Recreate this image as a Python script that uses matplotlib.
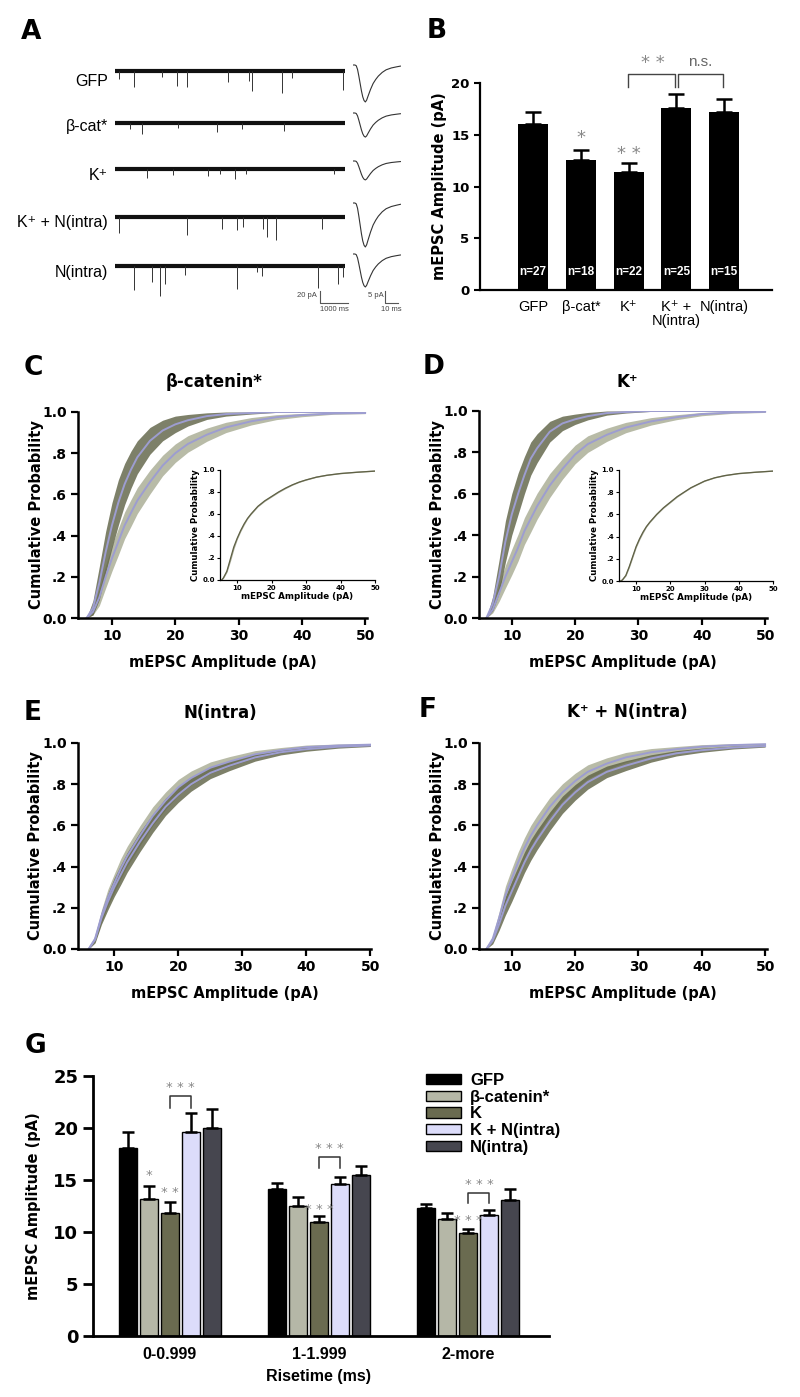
import numpy as np
import matplotlib
matplotlib.use('Agg')
import matplotlib.pyplot as plt

plt.rcParams['font.family'] = ['DejaVu Sans']

W, H = 800, 1397
ARIAL = ['Liberation Sans', 'DejaVu Sans']
NARROW = ['Liberation Sans Narrow', 'Liberation Sans', 'DejaVu Sans']
WIDE = ['DejaVu Sans']

# ---- A: example traces (event times in ms, amplitudes in pA) ----
trace_names = ['GFP', 'β-cat*', 'K⁺', 'K⁺ + N(intra)', 'N(intra)']
ev_gfp_t = [143, 690, 1667, 2226, 2560, 4048, 4798, 4881, 5976, 6310, 8131]
ev_gfp_a = [14, 28, 10, 25, 28, 18, 17, 34, 38, 12, 32]
ev_bcat_t = [536, 976, 2262, 3655, 4524, 6048]
ev_bcat_a = [10, 19, 8, 15, 11, 13]
ev_k_t = [1155, 2083, 3333, 3750, 4286, 4679, 7821]
ev_k_a = [15, 10, 12, 8, 17, 8, 9]
ev_kn_t = [143, 2583, 3810, 4345, 4583, 5298, 5440, 5738, 7381]
ev_kn_a = [28, 30, 20, 23, 17, 20, 35, 40, 21]
ev_n_t = [690, 1333, 1607, 1786, 2500, 4345, 5060, 5238, 7262, 7976, 8150]
ev_n_a = [41, 28, 52, 30, 15, 39, 10, 17, 38, 30, 18]

# averaged mEPSC shape (ms, fraction of peak) and peak per group (pA)
wave_t = [0, 1, 2, 3, 4, 5, 6, 7, 8, 9, 10, 12, 14, 16, 18, 21, 24, 28, 32, 35]
wave_frac = [0, 0.02, 0.12, 0.3, 0.5, 0.7, 0.86, 0.96, 1.0, 0.95, 0.85, 0.66,
             0.5, 0.39, 0.3, 0.2, 0.13, 0.08, 0.05, 0.03]
wave_peak = [15.8, 10.3, 8.1, 18.8, 14.1]

# ---- B ----
b_labels = ['GFP', 'β-cat*', 'K⁺', 'K⁺ +\nN(intra)', 'N(intra)']
b_means = [16.06, 12.58, 11.39, 17.55, 17.16]
b_sem = [1.10, 0.97, 0.87, 1.42, 1.29]
b_n = ['n=27', 'n=18', 'n=22', 'n=25', 'n=15']

# ---- C-F: cumulative distributions ----
amp_x = [6, 7, 8, 9, 10, 11, 12, 13, 14, 16, 18, 20, 22, 25, 28, 32, 36, 40, 45, 50]
c_dark = [0, 0.05, 0.17, 0.32, 0.45, 0.56, 0.65, 0.72, 0.78, 0.86, 0.91, 0.94,
          0.96, 0.98, 0.99, 0.995, 1.0, 1.0, 1.0, 1.0]
c_dark_sem = [0, 0.035, 0.08, 0.1, 0.11, 0.11, 0.1, 0.09, 0.08, 0.065, 0.05, 0.04,
              0.028, 0.016, 0.01, 0.005, 0.002, 0, 0, 0]
c_light = [0, 0.03, 0.1, 0.2, 0.29, 0.37, 0.45, 0.51, 0.57, 0.66, 0.74, 0.8,
           0.845, 0.89, 0.925, 0.955, 0.975, 0.985, 0.993, 0.995]
c_light_sem = [0, 0.015, 0.04, 0.055, 0.062, 0.065, 0.065, 0.065, 0.063, 0.058, 0.05,
               0.045, 0.04, 0.032, 0.025, 0.018, 0.012, 0.008, 0.004, 0.003]
d_dark = [0, 0.07, 0.2, 0.37, 0.5, 0.6, 0.69, 0.77, 0.82, 0.9, 0.94, 0.96,
          0.975, 0.99, 0.995, 1.0, 1.0, 1.0, 1.0, 1.0]
d_dark_sem = [0, 0.035, 0.08, 0.1, 0.1, 0.1, 0.09, 0.08, 0.07, 0.05, 0.035, 0.025,
              0.018, 0.01, 0.005, 0.002, 0, 0, 0, 0]
d_light = [0, 0.04, 0.12, 0.2, 0.27, 0.34, 0.42, 0.48, 0.54, 0.64, 0.72, 0.79,
           0.84, 0.885, 0.92, 0.95, 0.97, 0.985, 0.993, 0.996]
d_light_sem = [0, 0.015, 0.04, 0.055, 0.062, 0.065, 0.065, 0.065, 0.063, 0.058, 0.05,
               0.045, 0.04, 0.032, 0.025, 0.018, 0.012, 0.008, 0.004, 0.003]
e_dark = [0, 0.045, 0.15, 0.23, 0.3, 0.36, 0.42, 0.47, 0.52, 0.61, 0.69, 0.75,
          0.8, 0.855, 0.89, 0.93, 0.955, 0.97, 0.982, 0.988]
e_light = [0, 0.05, 0.16, 0.25, 0.32, 0.39, 0.45, 0.5, 0.55, 0.645, 0.72, 0.785,
           0.83, 0.88, 0.91, 0.945, 0.965, 0.98, 0.988, 0.992]
e_sem = [0, 0.015, 0.03, 0.04, 0.045, 0.048, 0.048, 0.048, 0.048, 0.045, 0.042, 0.038,
         0.034, 0.028, 0.024, 0.018, 0.013, 0.01, 0.007, 0.005]
f_dark = [0, 0.04, 0.12, 0.21, 0.28, 0.35, 0.42, 0.48, 0.53, 0.62, 0.7, 0.76,
          0.81, 0.86, 0.89, 0.925, 0.95, 0.965, 0.978, 0.985]
f_light = [0, 0.05, 0.15, 0.26, 0.34, 0.42, 0.49, 0.55, 0.6, 0.69, 0.76, 0.815,
           0.86, 0.9, 0.93, 0.955, 0.97, 0.982, 0.99, 0.994]
f_sem = [0, 0.015, 0.03, 0.045, 0.05, 0.05, 0.05, 0.05, 0.048, 0.045, 0.042, 0.038,
         0.034, 0.028, 0.024, 0.018, 0.013, 0.01, 0.007, 0.005]

inset_x = [5.5, 6, 7, 8, 9, 10, 11, 12, 13, 14, 16, 18, 20, 22, 24, 26, 28, 30,
           33, 36, 40, 45, 50]
c_inset_a = [0, 0.02, 0.08, 0.19, 0.3, 0.38, 0.45, 0.51, 0.56, 0.6, 0.67, 0.72,
             0.76, 0.8, 0.835, 0.865, 0.89, 0.91, 0.935, 0.952, 0.968, 0.98, 0.99]
c_inset_b = [0, 0.015, 0.07, 0.17, 0.28, 0.37, 0.44, 0.5, 0.555, 0.595, 0.665, 0.715,
             0.755, 0.795, 0.83, 0.862, 0.888, 0.908, 0.934, 0.951, 0.967, 0.98, 0.99]
d_inset_a = [0, 0.01, 0.05, 0.13, 0.22, 0.31, 0.38, 0.44, 0.49, 0.53, 0.6, 0.66,
             0.71, 0.76, 0.8, 0.84, 0.87, 0.9, 0.93, 0.95, 0.968, 0.98, 0.99]
d_inset_b = [0, 0.008, 0.045, 0.12, 0.21, 0.3, 0.37, 0.43, 0.485, 0.525, 0.595, 0.655,
             0.705, 0.755, 0.797, 0.837, 0.868, 0.898, 0.929, 0.949, 0.967, 0.98, 0.99]

# ---- G ----
g_groups = ['0-0.999', '1-1.999', '2-more']
g_names = ['GFP', 'β-catenin*', 'K', 'K + N(intra)', 'N(intra)']
g_gfp = [18.05, 14.13, 12.34]
g_bcat = [13.2, 12.53, 11.28]
g_k = [11.86, 10.93, 9.94]
g_kn = [19.6, 14.58, 11.63]
g_n = [19.97, 15.5, 13.08]
g_gfp_sem = [1.55, 0.62, 0.32]
g_bcat_sem = [1.25, 0.84, 0.58]
g_k_sem = [1.04, 0.61, 0.35]
g_kn_sem = [1.8, 0.72, 0.45]
g_n_sem = [1.83, 0.8, 1.09]
g_colors = ['#000000', '#b5b7a7', '#6a6b50', '#dcdcfa', '#46464f']

DARK = '#5d6143'
LIGHT = '#b8bba7'
LAV = '#9d9dd0'

fig = plt.figure(figsize=(W / 100, H / 100), dpi=100)


def px_axes(l, t, r, b):
    return fig.add_axes([l / W, 1 - b / H, (r - l) / W, (b - t) / H])


def ftext(x, y, s, **kw):
    fig.text(x / W, 1 - y / H, s, **kw)


def bold_ticks(ax, fam=WIDE):
    for lab in ax.get_xticklabels() + ax.get_yticklabels():
        lab.set_fontweight('bold')
        lab.set_family(fam)


# panel letters
for letter, (x, y) in zip('ABCDEFG', [(31, 32), (437, 31), (33, 368), (434, 367),
                                      (33, 713), (428, 710), (35, 1046)]):
    ftext(x, y, letter, fontsize=19, fontweight='bold', ha='center', va='center')

# ---------------- A ----------------
MS_PX = 1000 / 28.0
PA_PX = 20 / 11.7
ax_tr = px_axes(115, 55, 348, 315)
ax_tr.set_xlim(0, 233 * MS_PX)
ax_tr.set_ylim(-260 * PA_PX, 0)
ax_tr.axis('off')
row_px = [71, 123, 169, 217, 266]
label_px = [82, 127, 175, 223, 273]
events = [(ev_gfp_t, ev_gfp_a), (ev_bcat_t, ev_bcat_a), (ev_k_t, ev_k_a),
          (ev_kn_t, ev_kn_a), (ev_n_t, ev_n_a)]
for i, (ts, amps) in enumerate(events):
    base = -(row_px[i] - 55) * PA_PX
    ax_tr.plot([0, 8200], [base, base], color='#111111', lw=3.0, solid_capstyle='butt')
    ax_tr.vlines(ts, base, base - np.array(amps), color='#333333', lw=0.7)
    ftext(108, label_px[i], trace_names[i], ha='right', va='center', fontsize=11.5,
          family=ARIAL)

x0 = (320 - 115) * MS_PX
y0 = -(303 - 55) * PA_PX
ax_tr.plot([x0, x0, x0 + 1000], [y0 + 20, y0, y0], color='#555555', lw=0.8,
           clip_on=False)
ax_tr.text(x0 - 120, y0 + 12, '20 pA', ha='right', va='center', fontsize=5.5,
           color='#444444', family=ARIAL)
ax_tr.text(x0 + 500, y0 - 5, '1000 ms', ha='center', va='top', fontsize=5.5,
           color='#444444', family=ARIAL)

WMS_PX = 0.77
WPA_PX = 5 / 11.7
ax_w = px_axes(353, 55, 401, 315)
ax_w.set_xlim(0, 48 * WMS_PX)
ax_w.set_ylim(-260 * WPA_PX, 0)
ax_w.axis('off')
wave_px = [65, 113, 161, 203, 254]
for i in range(5):
    base = -(wave_px[i] - 55) * WPA_PX
    tt = [0] + [t + 1.5 for t in wave_t]
    yy = [base] + [base - wave_peak[i] * f for f in wave_frac]
    ax_w.plot(tt, yy, color='#333333', lw=0.8)
x1 = (385 - 353) * WMS_PX
y1 = -(303 - 55) * WPA_PX
ax_w.plot([x1, x1, x1 + 10], [y1 + 5, y1, y1], color='#555555', lw=0.8, clip_on=False)
ax_w.text(x1 - 0.6, y1 + 3, '5 pA', ha='right', va='center', fontsize=5.5,
          color='#444444', family=ARIAL)
ax_w.text(x1 + 5, y1 - 1.2, '10 ms', ha='center', va='top', fontsize=5.5,
          color='#444444', family=ARIAL)

# ---------------- B ----------------
axB = px_axes(480, 83, 772, 290)
xb = np.arange(len(b_means))
axB.bar(xb, b_means, width=0.63, color='black')
axB.errorbar(xb, b_means, yerr=[np.zeros(5), b_sem], fmt='none', ecolor='black',
             elinewidth=1.8, capsize=6, capthick=1.8)
axB.set_xlim(-1.11, 5.0)
axB.set_ylim(0, 20)
axB.set_yticks([0, 5, 10, 15, 20])
axB.set_xticks(xb)
axB.set_xticklabels(b_labels, family=ARIAL, fontsize=10.5, linespacing=1.0)
axB.tick_params(axis='x', length=0, pad=7)
axB.tick_params(axis='y', direction='out', length=4, width=1.5, labelsize=9.5)
for lab in axB.get_yticklabels():
    lab.set_fontweight('bold')
for s in ['top', 'right']:
    axB.spines[s].set_visible(False)
for s in ['left', 'bottom']:
    axB.spines[s].set_linewidth(1.6)
axB.text(-0.137, 0.5, 'mEPSC Amplitude (pA)', transform=axB.transAxes, rotation=90,
         ha='center', va='center', fontsize=10.5, fontweight='bold')
for i, n in enumerate(b_n):
    axB.text(xb[i], 1.7, n, color='white', ha='center', va='center', fontsize=8.5,
             fontweight='bold', family=ARIAL)
axB.text(1, b_means[1] + b_sem[1] + 1.1, '*', ha='center', va='center', fontsize=13,
         color='#888888')
axB.text(2, b_means[2] + b_sem[2] + 0.9, '* *', ha='center', va='center', fontsize=13,
         color='#888888')
axB.plot([1.98, 1.98, 2.97, 2.97], [19.6, 20.87, 20.87, 19.6], color='#444444',
         lw=1, clip_on=False)
axB.plot([3.03, 3.03, 3.98, 3.98], [19.6, 20.87, 20.87, 19.6], color='#444444',
         lw=1, clip_on=False)
axB.text(2.5, 21.9, '* *', ha='center', va='center', fontsize=13, color='#888888')
axB.text(3.5, 22.0, 'n.s.', ha='center', va='center', fontsize=11, color='#666666',
         family=ARIAL)


# ---------------- C-F ----------------
def cdf_panel(rect, xlim, dark, dark_sem, light, light_sem, title, title_xy):
    ax = px_axes(*rect)
    xs = np.array(amp_x)
    dk, dks = np.array(dark), np.array(dark_sem)
    lt, lts = np.array(light), np.array(light_sem)
    ax.fill_between(xs, np.clip(lt - lts, 0, 1), np.clip(lt + lts, 0, 1),
                    color=LIGHT, lw=0)
    ax.fill_between(xs, np.clip(dk - dks, 0, 1), np.clip(dk + dks, 0, 1),
                    color=DARK, lw=0, alpha=0.8)
    ax.plot(xs, dk, color=LAV, lw=1.4)
    ax.plot(xs, lt, color=LAV, lw=1.4)
    ax.set_xlim(*xlim)
    ax.set_ylim(0, 1)
    ax.set_xticks([10, 20, 30, 40, 50])
    ax.set_yticks([0, 0.2, 0.4, 0.6, 0.8, 1.0])
    ax.set_yticklabels(['0.0', '.2', '.4', '.6', '.8', '1.0'])
    ax.tick_params(direction='out', length=5, width=1.6, labelsize=10, pad=3)
    bold_ticks(ax)
    for s in ['top', 'right']:
        ax.spines[s].set_visible(False)
    for s in ['left', 'bottom']:
        ax.spines[s].set_linewidth(1.8)
    ax.text(-0.145, 0.5, 'Cumulative Probability', transform=ax.transAxes,
            rotation=90, ha='center', va='center', fontsize=10.5, fontweight='bold')
    ax.text(0.5, -0.214, 'mEPSC Amplitude (pA)', transform=ax.transAxes,
            ha='center', va='center', fontsize=10.5, fontweight='bold')
    ftext(title_xy[0], title_xy[1], title, ha='center', va='center',
          fontsize=12, fontweight='bold')
    return ax


def inset_panel(rect, ya, yb):
    ax = px_axes(*rect)
    ax.plot(inset_x, yb, color='#a9ab99', lw=1.0)
    ax.plot(inset_x, ya, color='#5f6145', lw=0.9)
    ax.set_xlim(5, 50)
    ax.set_ylim(0, 1)
    ax.set_xticks([10, 20, 30, 40, 50])
    ax.set_yticks([0, 0.2, 0.4, 0.6, 0.8, 1.0])
    ax.set_yticklabels(['0.0', '.2', '.4', '.6', '.8', '1.0'])
    ax.tick_params(direction='out', length=2, width=0.8, labelsize=5, pad=1.5)
    bold_ticks(ax)
    for s in ['top', 'right']:
        ax.spines[s].set_visible(False)
    for s in ['left', 'bottom']:
        ax.spines[s].set_linewidth(0.9)
    ax.set_xlabel('mEPSC Amplitude (pA)', fontsize=6.3, fontweight='bold', labelpad=1)
    ax.set_ylabel('Cumulative Probability', fontsize=6.2, fontweight='bold', labelpad=2)
    ax.patch.set_alpha(0)


cdf_panel((78, 412, 367, 618), (4.63, 50.3), c_dark, c_dark_sem, c_light,
          c_light_sem, 'β-catenin*', (214, 382))
inset_panel((220, 470, 375, 580), c_inset_a, c_inset_b)
cdf_panel((479, 411, 767, 618), (4.83, 50.3), d_dark, d_dark_sem, d_light,
          d_light_sem, 'K⁺', (627, 382))
inset_panel((619, 470, 773, 581), d_inset_a, d_inset_b)
cdf_panel((78, 743, 371, 949), (4.33, 50.1), e_dark, e_sem, e_light, e_sem,
          'N(intra)', (220, 713))
cdf_panel((479, 743, 767, 949), (4.83, 50.3), f_dark, f_sem, f_light, f_sem,
          'K⁺ + N(intra)', (627, 712))

# ---------------- G ----------------
axG = px_axes(93, 1076, 549, 1336)
xg = np.arange(len(g_groups))
step = 0.1405
series = [(g_gfp, g_gfp_sem), (g_bcat, g_bcat_sem), (g_k, g_k_sem),
          (g_kn, g_kn_sem), (g_n, g_n_sem)]
handles = []
for j, (m, e) in enumerate(series):
    pos = xg + (j - 2) * step
    h = axG.bar(pos, m, width=0.12, color=g_colors[j], edgecolor='black', lw=1.0)
    handles.append(h)
    axG.errorbar(pos, m, yerr=[np.zeros(3), e], fmt='none', ecolor='black',
                 elinewidth=1.8, capsize=4, capthick=1.8)
axG.set_xlim(-0.515, 2.54)
axG.set_ylim(0, 25)
axG.set_yticks([0, 5, 10, 15, 20, 25])
axG.set_xticks(xg)
axG.set_xticklabels(g_groups, family=NARROW, fontweight='bold', fontsize=11.5)
axG.tick_params(axis='x', length=0, pad=8)
axG.tick_params(axis='y', direction='out', length=7, width=2, labelsize=13)
for lab in axG.get_yticklabels():
    lab.set_fontweight('bold')
for s in ['top', 'right']:
    axG.spines[s].set_visible(False)
for s in ['left', 'bottom']:
    axG.spines[s].set_linewidth(2)
axG.text(-0.131, 0.5, 'mEPSC Amplitude (pA)', transform=axG.transAxes, rotation=90,
         ha='center', va='center', fontsize=10.5, fontweight='bold')
ftext(318, 1376, 'Risetime (ms)', ha='center', va='center', fontsize=11.5,
      fontweight='bold', family=NARROW)

star = dict(ha='center', va='center', fontsize=9.5, color='#888888')
axG.text(-step, 15.4, '*', **star)
axG.text(0, 13.75, '* *', **star)
axG.text(1, 12.2, '* * *', **star)
axG.text(2, 11.06, '* * *', **star)
for gx, top, bot in [(0, 23.1, 21.95), (1, 17.24, 16.18), (2, 13.75, 12.8)]:
    axG.plot([gx, gx, gx + step, gx + step], [bot, top, top, bot], color='#333333',
             lw=1.1)
    axG.text(gx + step / 2, top + 0.8, '* * *', **star)

axG.legend(handles, g_names, loc='upper left', bbox_to_anchor=(426 / W, 1 - 1073 / H),
           bbox_transform=fig.transFigure, frameon=False, borderpad=0,
           borderaxespad=0, handlelength=2.1, handleheight=0.6, labelspacing=0.1,
           handletextpad=0.55,
           prop={'family': NARROW, 'weight': 'bold', 'size': 12})

fig.savefig('out.png', dpi=100)
